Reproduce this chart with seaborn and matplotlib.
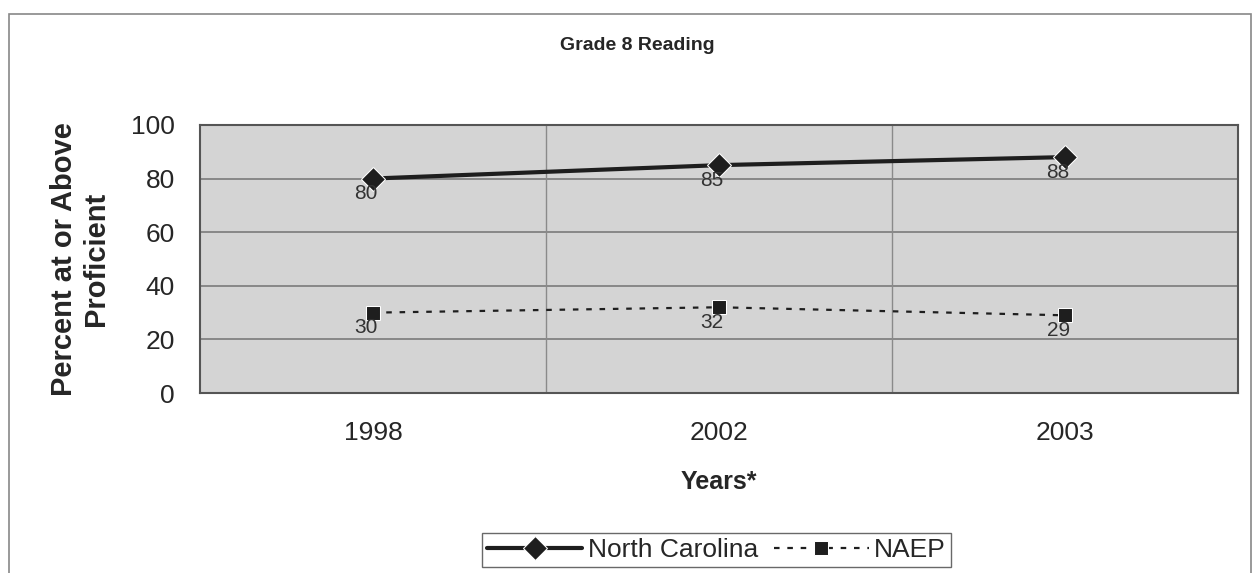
import matplotlib
matplotlib.use("Agg")
import matplotlib.pyplot as plt
import seaborn as sns
import pandas as pd
from matplotlib.patches import Rectangle

years = ["1998", "2002", "2003"]
nc_values = [80, 85, 88]
naep_values = [30, 32, 29]
y_ticks = [0, 20, 40, 60, 80, 100]

sns.set_theme(style="white")
plt.rcParams['font.family'] = ['Liberation Sans', 'DejaVu Sans']

df = pd.DataFrame({
    "pos": list(range(len(years))) * 2,
    "value": nc_values + naep_values,
    "series": ["North Carolina"] * 3 + ["NAEP"] * 3,
})

fig = plt.figure(figsize=(12.57, 5.73), dpi=100)
ax = fig.add_axes([0.159, 0.314, 0.826, 0.468])
ax.set_facecolor("#d4d4d4")

nc = df[df.series == "North Carolina"]
na = df[df.series == "NAEP"]
sns.lineplot(data=nc, x="pos", y="value", ax=ax, color="#1e1e1e", lw=3,
             marker="D", markersize=12, label="North Carolina")
sns.lineplot(data=na, x="pos", y="value", ax=ax, color="#1e1e1e", lw=1.6,
             linestyle=(0, (2.5, 3.5)), marker="s", markersize=10, label="NAEP")

for xs, vals in [(nc.pos, nc.value), (na.pos, na.value)]:
    for x, v in zip(xs, vals):
        ax.annotate(f"{v}", (x, v), xytext=(-5, -11), textcoords="offset points",
                    ha="center", va="center", fontsize=15, color="#333333")

ax.set_xlim(-0.5, 2.5)
ax.set_ylim(0, 100)
ax.set_yticks(y_ticks)
ax.set_yticklabels([str(t) for t in y_ticks], fontsize=19)
ax.set_xticks(range(len(years)))
ax.set_xticklabels(years, fontsize=19)
ax.tick_params(axis="x", length=0, pad=20)
ax.tick_params(axis="y", length=0, pad=18)
for y in y_ticks[1:]:
    ax.axhline(y, color="#7a7a7a", lw=1.2, zorder=0)
for x in [0.5, 1.5]:
    ax.axvline(x, color="#8a8a8a", lw=1.0, zorder=0)
for s in ax.spines.values():
    s.set_color("#555555")
    s.set_linewidth(1.5)

ax.set_xlabel("Years*", fontsize=18, fontweight="bold", labelpad=18)
ax.set_ylabel("Percent at or Above\nProficient", fontsize=21, fontweight="bold",
              labelpad=15, linespacing=1.2)

fig.text(0.507, 0.92, "Grade 8 Reading", ha="center", va="center",
         fontsize=14, fontweight="bold")

leg = ax.legend(loc="center", ncol=2, frameon=True, fontsize=19, handlelength=3.6,
                handletextpad=0.2, columnspacing=0.6, borderpad=0.2, fancybox=False)
leg.get_frame().set_edgecolor("#444444")
leg.get_frame().set_linewidth(1.0)
leg.set_bbox_to_anchor((0.57, 0.04), transform=fig.transFigure)

fig.patches.append(Rectangle((0.007, -0.01), 0.988, 0.985, transform=fig.transFigure,
                             fill=False, edgecolor="#888888", lw=1.2))

fig.savefig("out.png", dpi=100)
